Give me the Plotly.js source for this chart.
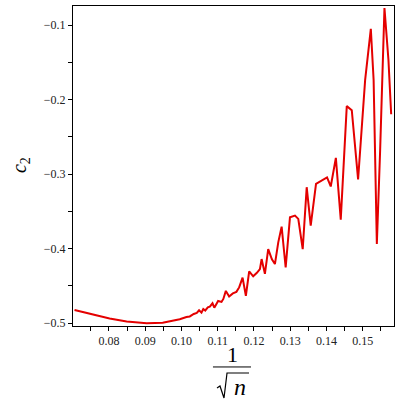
<!DOCTYPE html>
<html>
<head>
<meta charset="utf-8">
<script src="https://cdn.plot.ly/plotly-3.0.1.min.js"></script>
<style>
	html, body { margin: 0; padding: 0; background: #fff; }
	#plot { width: 400px; height: 400px; }
</style>
</head>
<body>
<div id="plot"></div>
<script>
	// values
	const invSqrtN = [
		0.07052, 0.07467, 0.08019, 0.08489, 0.09041, 0.09483, 0.09677, 0.09953,
		0.10138, 0.10229, 0.10340, 0.10423, 0.10486, 0.10552, 0.10602, 0.10657,
		0.10727, 0.10782, 0.10856, 0.10906, 0.11011, 0.11105, 0.11155, 0.11224,
		0.11315, 0.11417, 0.11514, 0.11591, 0.11685, 0.11776, 0.11867, 0.11978,
		0.12080, 0.12163, 0.12210, 0.12301, 0.12392, 0.12494, 0.12577, 0.12669,
		0.12762, 0.12873, 0.12992, 0.13130, 0.13221, 0.13343, 0.13453, 0.13564,
		0.13710, 0.13867, 0.14014, 0.14116, 0.14257, 0.14392, 0.14558, 0.14696,
		0.14870, 0.15064, 0.15221, 0.15298, 0.15387, 0.15478, 0.15597, 0.15707,
		0.15782
	];
	const c2 = [
		-0.4825, -0.4875, -0.4939, -0.4980, -0.5004, -0.4996, -0.4977, -0.4950,
		-0.4919, -0.4912, -0.4879, -0.4865, -0.4829, -0.4861, -0.4811, -0.4832,
		-0.4791, -0.4780, -0.4735, -0.4794, -0.4704, -0.4717, -0.4677, -0.4569,
		-0.4643, -0.4602, -0.4582, -0.4522, -0.4390, -0.4636, -0.4306, -0.4373,
		-0.4326, -0.4276, -0.4142, -0.4340, -0.4007, -0.4144, -0.4209, -0.3918,
		-0.3706, -0.4255, -0.3581, -0.3558, -0.3602, -0.4009, -0.3177, -0.3693,
		-0.3131, -0.3086, -0.3046, -0.3167, -0.2783, -0.3612, -0.2089, -0.2143,
		-0.3073, -0.1739, -0.1051, -0.1739, -0.3939, -0.2682, -0.0772, -0.1469,
		-0.2197
	];

	const serif = "'Liberation Serif', 'Times New Roman', serif";

	const trace = {
		x: invSqrtN,
		y: c2,
		type: 'scatter',
		mode: 'lines',
		line: { color: 'rgb(228,0,0)', width: 2 },
		hoverinfo: 'skip'
	};

	// shared look of both axes
	const axisBase = {
		showline: true,
		mirror: true,
		linecolor: '#000',
		linewidth: 1,
		showgrid: false,
		zeroline: false,
		ticks: 'outside',
		ticklen: 4,
		tickcolor: '#000',
		tickfont: { family: serif, size: 12, color: '#222' }
	};

	const layout = {
		width: 400,
		height: 400,
		margin: { l: 73, r: 6, t: 6, b: 74 },
		paper_bgcolor: '#fff',
		plot_bgcolor: '#fff',
		showlegend: false,
		xaxis: Object.assign({}, axisBase, {
			range: [0.0701, 0.1586],
			dtick: 0.01,
			tick0: 0.08,
			tickformat: '.2f',
			minor: { dtick: 0.005, ticks: 'outside', ticklen: 4, tickcolor: '#000' }
		}),
		yaxis: Object.assign({}, axisBase, {
			range: [-0.504, -0.0745],
			dtick: 0.1,
			tick0: -0.5,
			tickformat: '.1f',
			minor: { dtick: 0.05, ticks: 'outside', ticklen: 4, tickcolor: '#000' }
		}),
		annotations: [
			{ // y title c_2
				text: '<i>c</i><sub>2</sub>',
				xref: 'paper', yref: 'paper',
				x: -0.165, y: 0.503,
				xanchor: 'center', yanchor: 'middle',
				showarrow: false, textangle: -90,
				font: { family: serif, size: 20, color: '#000' }
			},
			{ // x title numerator
				text: '1',
				xref: 'paper', yref: 'paper',
				x: 0.497, y: -0.0906,
				xanchor: 'center', yanchor: 'middle',
				showarrow: false,
				font: { family: serif, size: 22, color: '#000' }
			},
			{ // x title denominator (radical drawn as a shape)
				text: '<i>n</i>',
				xref: 'paper', yref: 'paper',
				x: 0.520, y: -0.192,
				xanchor: 'center', yanchor: 'middle',
				showarrow: false,
				font: { family: serif, size: 24, color: '#000' }
			}
		],
		shapes: [
			{ // fraction bar
				type: 'line',
				xref: 'paper', yref: 'paper',
				x0: 0.436, x1: 0.5545, y0: -0.128, y1: -0.128,
				line: { color: '#000', width: 1 }
			},
			{ // radical sign with vinculum
				type: 'path',
				xref: 'paper', yref: 'paper',
				path: 'M 0.4486,-0.1938 L 0.4579,-0.1875 L 0.4704,-0.225 L 0.4798,-0.1469 L 0.5483,-0.1469',
				line: { color: '#000', width: 1.2 }
			}
		]
	};

	Plotly.newPlot('plot', [trace], layout, { displayModeBar: false, staticPlot: true });
</script>
</body>
</html>
